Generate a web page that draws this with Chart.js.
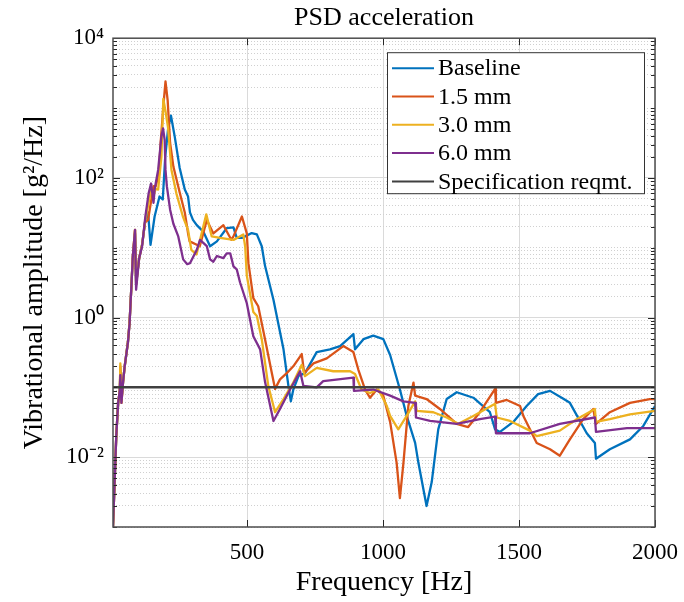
<!DOCTYPE html>
<html>
<head>
<meta charset="utf-8">
<script src="https://cdn.jsdelivr.net/npm/chart.js@4.4.0/dist/chart.umd.min.js"></script>
<style>
  html, body { margin: 0; padding: 0; background: #fff; }
</style>
</head>
<body>
<canvas id="psd" width="684" height="602"></canvas>
<script>
// Series labels and colours (MATLAB default order)
const seriesNames = ['Baseline', '1.5 mm', '3.0 mm', '6.0 mm', 'Specification reqmt.']
const seriesColors = ['#0072BD', '#D95319', '#EDB120', '#7E2F8E', '#404040']

// Frequency [Hz] / amplitude [g^2/Hz]
const baselineHz = [7, 13, 19, 26, 32, 34, 38, 44, 50, 62, 68, 74, 80, 88, 92, 103, 114, 126, 136, 145, 160, 178, 190, 199, 210, 220, 234, 252, 271, 283, 290, 301, 315, 339, 364, 389, 425, 450, 462, 481, 500, 517, 536, 554, 566, 597, 634, 652, 661, 670, 689, 713, 756, 805, 842, 891, 897, 928, 964, 1001, 1026, 1062, 1087, 1118, 1130, 1160, 1179, 1203, 1234, 1271, 1332, 1393, 1412, 1430, 1479, 1528, 1570, 1614, 1660, 1687, 1749, 1779, 1783, 1834, 1908, 1957, 2000]
const baselineAmp = [0.001, 0.0045, 0.02, 0.06, 0.09, 0.17, 0.065, 0.12, 0.2, 0.45, 0.85, 2.5, 7.5, 16, 3, 7, 11, 25, 32, 11, 28, 54, 49, 200, 520, 780, 390, 140, 68, 54, 32, 25, 21, 17, 10.5, 12.3, 19, 19.5, 13.8, 13.8, 15, 16.2, 15.5, 10.5, 5.5, 1.8, 0.35, 0.105, 0.063, 0.093, 0.145, 0.16, 0.32, 0.35, 0.39, 0.58, 0.35, 0.49, 0.55, 0.49, 0.29, 0.093, 0.039, 0.016, 0.0083, 0.002, 0.0044, 0.025, 0.068, 0.085, 0.071, 0.044, 0.025, 0.023, 0.032, 0.054, 0.08, 0.089, 0.07, 0.06, 0.022, 0.016, 0.0095, 0.013, 0.018, 0.028, 0.054]

const mm15Hz = [7, 13, 19, 26, 32, 34, 38, 44, 50, 62, 68, 74, 80, 88, 92, 103, 114, 125, 136, 148, 156, 164, 176, 182, 194, 200, 208, 217, 229, 253, 271, 283, 289, 315, 326, 352, 376, 413, 442, 450, 481, 499, 505, 523, 541, 566, 591, 603, 621, 646, 670, 701, 710, 744, 793, 854, 891, 909, 934, 952, 977, 1001, 1026, 1050, 1062, 1075, 1093, 1112, 1118, 1160, 1209, 1271, 1313, 1356, 1412, 1415, 1455, 1504, 1516, 1565, 1614, 1650, 1687, 1736, 1773, 1783, 1834, 1908, 1981, 2000]
const mm15Amp = [0.001, 0.0045, 0.02, 0.06, 0.09, 0.2, 0.06, 0.12, 0.2, 0.45, 0.85, 2.5, 7.5, 18, 3, 7, 11, 23, 25, 49, 76, 76, 117, 316, 1290, 2400, 1290, 316, 145, 60, 32, 16, 12.3, 11, 10.5, 25, 16, 21, 13, 14.5, 28, 16, 6, 1.9, 1.45, 0.49, 0.16, 0.095, 0.13, 0.16, 0.2, 0.3, 0.16, 0.22, 0.26, 0.39, 0.32, 0.18, 0.093, 0.071, 0.093, 0.076, 0.032, 0.0083, 0.0026, 0.0083, 0.054, 0.117, 0.076, 0.068, 0.049, 0.03, 0.027, 0.044, 0.095, 0.06, 0.066, 0.054, 0.039, 0.016, 0.013, 0.0105, 0.018, 0.035, 0.049, 0.03, 0.044, 0.06, 0.068, 0.068]

const mm30Hz = [7, 13, 19, 26, 32, 34, 38, 44, 50, 62, 68, 74, 80, 88, 92, 103, 114, 125, 136, 148, 156, 164, 173, 185, 192, 200, 209, 222, 240, 264, 283, 295, 314, 350, 370, 401, 450, 486, 493, 499, 523, 536, 554, 578, 603, 634, 670, 701, 713, 756, 817, 879, 897, 921, 952, 983, 1014, 1026, 1056, 1087, 1118, 1124, 1185, 1234, 1277, 1332, 1412, 1418, 1467, 1540, 1565, 1650, 1712, 1779, 1783, 1834, 1908, 2000]
const mm30Amp = [0.001, 0.0045, 0.02, 0.06, 0.09, 0.22, 0.06, 0.12, 0.2, 0.45, 0.85, 2.5, 7.5, 18, 3, 7, 11, 24, 40, 70, 55, 70, 68, 200, 1350, 900, 540, 130, 60, 28, 18, 9.3, 8, 30, 14.5, 13.8, 12.9, 15.5, 10.5, 4, 1.2, 1.05, 0.49, 0.105, 0.044, 0.068, 0.117, 0.21, 0.145, 0.19, 0.17, 0.17, 0.155, 0.093, 0.083, 0.093, 0.054, 0.039, 0.025, 0.039, 0.063, 0.046, 0.044, 0.037, 0.03, 0.039, 0.058, 0.037, 0.033, 0.024, 0.02, 0.024, 0.035, 0.049, 0.032, 0.035, 0.041, 0.046]

const mm60Hz = [7, 13, 19, 26, 32, 34, 38, 44, 50, 62, 68, 74, 80, 88, 92, 103, 114, 126, 138, 147, 156, 160, 173, 185, 191, 197, 200, 205, 217, 229, 247, 265, 280, 290, 315, 327, 352, 364, 376, 389, 413, 425, 438, 450, 462, 474, 499, 523, 548, 566, 597, 621, 658, 695, 707, 756, 780, 891, 893, 964, 1026, 1075, 1118, 1121, 1173, 1271, 1356, 1412, 1415, 1540, 1650, 1779, 1783, 1897, 2000]
const mm60Amp = [0.001, 0.0045, 0.02, 0.06, 0.09, 0.15, 0.06, 0.12, 0.2, 0.44, 0.83, 2.5, 7.6, 18, 2.5, 7, 10.5, 28, 60, 83, 44, 68, 130, 390, 510, 350, 130, 76, 35, 22, 14.5, 6.8, 5.8, 6, 9.3, 12.9, 10.5, 6.8, 6.3, 7.6, 7.1, 8.3, 8.3, 5.4, 4.9, 3.2, 1.6, 0.54, 0.35, 0.12, 0.033, 0.049, 0.093, 0.17, 0.105, 0.1, 0.123, 0.138, 0.089, 0.093, 0.076, 0.063, 0.06, 0.037, 0.033, 0.03, 0.035, 0.038, 0.022, 0.022, 0.03, 0.037, 0.023, 0.026, 0.026]

const specHz = [7, 2000]
const specAmp = [0.1, 0.1]

// Axis ticks
const xTicks = [500, 1000, 1500, 2000]
const yTickValues = [1e-2, 1, 1e2, 1e4]
const yTickLabels = ['10\u207B\u00B2', '10\u2070', '10\u00B2', '10\u2074']

const serif = "'Liberation Serif', 'Times New Roman', serif"

// Every 1..9 x 10^n between 1e-3 and 1e4 for the log grid
const yGridValues = []
for (let e = -3; e < 4; e++) {
  for (let m = 1; m < 10; m++) yGridValues.push(m * Math.pow(10, e))
}
yGridValues.push(1e4)

const isMajorY = v => yTickValues.some(t => Math.abs(t - v) / t < 1e-6)

const toPoints = (hz, amp) => hz.map((f, i) => ({ x: f, y: amp[i] }))
const seriesData = [
  toPoints(baselineHz, baselineAmp),
  toPoints(mm15Hz, mm15Amp),
  toPoints(mm30Hz, mm30Amp),
  toPoints(mm60Hz, mm60Amp),
  toPoints(specHz, specAmp),
]

// Box around the axes, inward ticks and the legend inside the plot
const axesBox = {
  id: 'axesBox',
  afterDatasetsDraw(chart) {
    const { ctx, chartArea: a, scales } = chart
    ctx.save()
    ctx.strokeStyle = '#262626'
    ctx.lineWidth = 1
    ctx.beginPath()
    yGridValues.forEach(v => {
      const y = Math.round(scales.y.getPixelForValue(v)) + 0.5
      const len = isMajorY(v) ? 7 : 4
      ctx.moveTo(a.left, y); ctx.lineTo(a.left + len, y)
      ctx.moveTo(a.right, y); ctx.lineTo(a.right - len, y)
    })
    xTicks.forEach(v => {
      const x = Math.round(scales.x.getPixelForValue(v)) + 0.5
      ctx.moveTo(x, a.bottom); ctx.lineTo(x, a.bottom - 7)
      ctx.moveTo(x, a.top); ctx.lineTo(x, a.top + 7)
    })
    ctx.stroke()

    ctx.strokeStyle = '#4d4d4d'
    ctx.lineWidth = 1.5
    ctx.strokeRect(a.left, a.top, a.right - a.left, a.bottom - a.top)

    // legend
    const w = 257, h = 141
    const lx = a.right - 11, ly = a.top + 14
    const left = lx - w
    ctx.fillStyle = '#fff'
    ctx.fillRect(left, ly, w, h)
    ctx.strokeStyle = '#333'
    ctx.lineWidth = 1
    ctx.strokeRect(left + 0.5, ly + 0.5, w, h)
    ctx.font = '24px ' + serif
    ctx.textBaseline = 'middle'
    ctx.textAlign = 'left'
    chart.data.datasets.forEach((ds, i) => {
      const cy = ly + 16 + i * 28.3
      ctx.strokeStyle = ds.borderColor
      ctx.lineWidth = 2
      ctx.beginPath()
      ctx.moveTo(left + 5, cy)
      ctx.lineTo(left + 47, cy)
      ctx.stroke()
      ctx.fillStyle = '#000'
      ctx.fillText(ds.label, left + 51, cy + 1)
    })
    ctx.restore()
  },
}

new Chart(document.getElementById('psd'), {
  type: 'line',
  data: {
    datasets: seriesNames.map((name, i) => ({
      label: name,
      data: seriesData[i],
      borderColor: seriesColors[i],
      backgroundColor: seriesColors[i],
      borderWidth: i === 4 ? 2.5 : 2.3,
      borderJoinStyle: 'round',
      pointRadius: 0,
      tension: 0,
      // later series on top, as in the original plot order
      order: seriesNames.length - i,
    })),
  },
  options: {
    responsive: false,
    animation: false,
    events: [],
    layout: { padding: { left: 0, right: 29, top: 0, bottom: 0 } },
    plugins: {
      legend: { display: false },
      tooltip: { enabled: false },
      title: {
        display: true,
        text: 'PSD acceleration',
        fullSize: false,
        color: '#000',
        font: { family: serif, size: 26, weight: 'normal' },
        padding: { top: 3, bottom: 4 },
      },
    },
    scales: {
      x: {
        type: 'linear',
        min: 7,
        max: 2000,
        afterBuildTicks: s => { s.ticks = xTicks.map(v => ({ value: v })) },
        afterFit: s => {
          s.height = 75
          s.paddingLeft = 0
          s.paddingRight = 0
        },
        grid: { color: '#dadada', drawTicks: false },
        border: { display: false },
        ticks: {
          color: '#000',
          maxRotation: 0,
          autoSkip: false,
          padding: 12,
          font: { family: serif, size: 23 },
          callback: v => String(v),
        },
        title: {
          display: true,
          text: 'Frequency [Hz]',
          color: '#000',
          font: { family: serif, size: 28 },
          padding: { bottom: 3 },
        },
      },
      y: {
        type: 'logarithmic',
        min: 1e-3,
        max: 1e4,
        afterBuildTicks: s => { s.ticks = yGridValues.map(v => ({ value: v })) },
        afterFit: s => {
          s.width = 113
          s.paddingTop = 0
          s.paddingBottom = 0
        },
        grid: {
          color: c => (isMajorY(c.tick.value) ? '#dadada' : '#d0d0d0'),
          drawTicks: false,
        },
        border: {
          display: false,
          dash: c => (c.tick && !isMajorY(c.tick.value) ? [1, 2] : []),
        },
        ticks: {
          color: '#000',
          autoSkip: false,
          padding: 9,
          font: { family: serif, size: 23 },
          callback: v => {
            const k = yTickValues.findIndex(t => Math.abs(t - v) / t < 1e-6)
            return k >= 0 ? yTickLabels[k] : ''
          },
        },
        title: {
          display: true,
          text: 'Vibrational amplitude [g\u00B2/Hz]',
          color: '#000',
          font: { family: serif, size: 28 },
          padding: { top: 18 },
        },
      },
    },
  },
  plugins: [axesBox],
})
</script>
</body>
</html>
